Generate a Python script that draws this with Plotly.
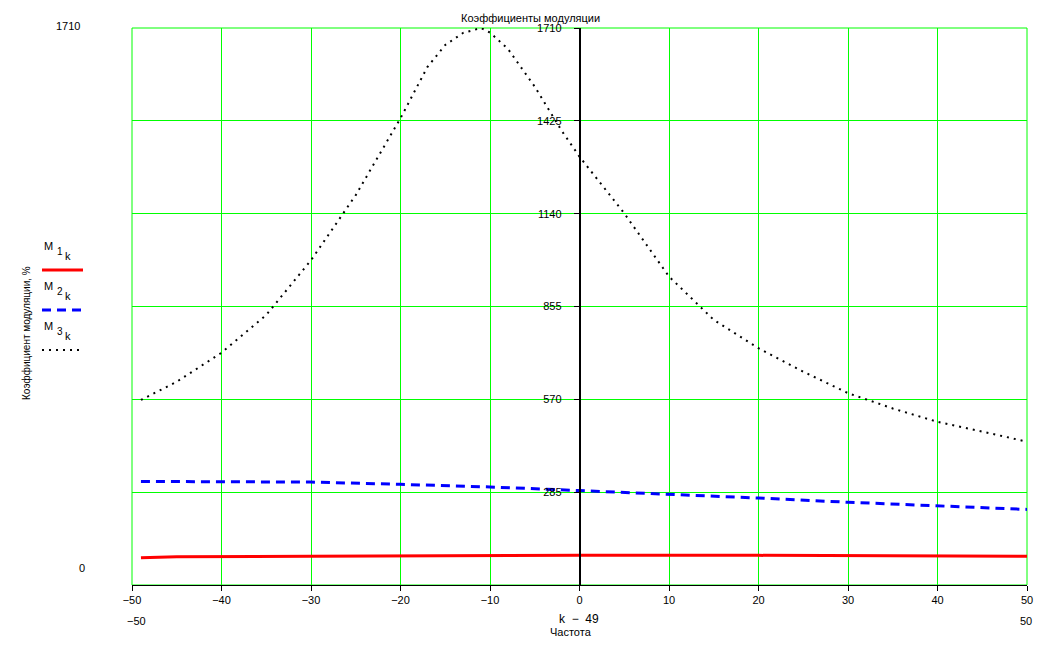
import plotly.graph_objects as go

# ---- data ----
x_m1 = [-49, -45, -30, -15, 0, 20, 36, 50]
m1 = [84, 87, 88, 90, 91, 91, 90, 88]

x_m2 = [-49, -40, -30, -20, -10, 0, 10, 20, 30, 40, 50]
m2 = [318, 318, 316, 309, 301, 290, 279, 267, 254, 244, 232]

x_m3 = [-49, -45, -40, -35, -30, -25, -20, -17, -15, -13, -11, -10, -8, -5, -2,
        0, 5, 10, 15, 20, 25, 30, 35, 40, 45, 50]
m3 = [568, 624, 713, 829, 997, 1197, 1433, 1590, 1658, 1695, 1710, 1696, 1646,
      1530, 1395, 1315, 1141, 947, 814, 727, 655, 589, 542, 501, 471, 440]

x_ticks = [-50, -40, -30, -20, -10, 0, 10, 20, 30, 40, 50]
y_ticks = [285, 570, 855, 1140, 1425, 1710]

FONT = "Liberation Sans, Arial, sans-serif"

OFF = 8  # default page body margin
W, H = 1061 - 2 * OFF, 647 - 2 * OFF
L, R, T, B = 132, 1027, 28, 585  # plot area in page pixels


def px(xp):
    return (xp - L) / (R - L)


def py(yp):
    return (B - yp) / (B - T)


fig = go.Figure()
fig.add_trace(go.Scatter(x=x_m1, y=m1, mode="lines", line=dict(color="#ff0000", width=3),
                         showlegend=False))
fig.add_trace(go.Scatter(x=x_m2, y=m2, mode="lines",
                         line=dict(color="#0000ff", width=3, dash="9px,6px"), showlegend=False))
fig.add_trace(go.Scatter(x=x_m3, y=m3, mode="lines",
                         line=dict(color="#000000", width=2, dash="2px,5px"), showlegend=False))

fig.update_layout(
    width=W, height=H,
    margin=dict(l=L - OFF, r=(OFF + W) - R, t=T - OFF, b=(OFF + H) - B),
    plot_bgcolor="white", paper_bgcolor="white",
    font=dict(family=FONT, size=11, color="black"),
    xaxis=dict(range=[-50, 50], tickvals=x_ticks,
               ticktext=[("−" + str(-v)) if v < 0 else str(v) for v in x_ticks],
               showgrid=True, gridcolor="#00ff00", gridwidth=1,
               zeroline=False, showline=True, linecolor="black", linewidth=1,
               ticks="outside", ticklen=5, tickcolor="black",
               tickfont=dict(family=FONT, size=11)),
    yaxis=dict(range=[0, 1710], tickvals=y_ticks, ticktext=[str(v) for v in y_ticks],
               showgrid=True, gridcolor="#00ff00", gridwidth=1,
               zeroline=False, showline=True, linecolor="black", linewidth=1.5,
               anchor="free", position=0.5,
               ticks="outside", ticklen=5, tickcolor="black", ticklabelstandoff=10,
               tickfont=dict(family=FONT, size=11)),
    showlegend=False,
)

ann = []


def text(xp, yp, s, size=11, xanchor="center", yanchor="middle", angle=0):
    ann.append(dict(x=px(xp), y=py(yp), xref="paper", yref="paper", text=s, showarrow=False,
                    xanchor=xanchor, yanchor=yanchor, textangle=angle,
                    font=dict(family=FONT, size=size, color="black")))


text(530, 18, "Коэффициенты модуляции", size=11)
text(68, 26, "1710", size=11)
text(82, 568, "0", size=11)
text(136, 621, "−50", size=11)
text(1026, 621, "50", size=11)
text(579, 619, "k  −  49", size=12)
text(571, 640, "Частота", size=11, yanchor="bottom")
text(27, 333, "Коэффициент модуляции, %", size=10, angle=-90)

legend_items = [("1", 270, "#ff0000", "solid", 3), ("2", 310, "#0000ff", "9px,6px", 3),
                ("3", 350, "#000000", "2px,5px", 2)]
shapes = [dict(type="rect", xref="paper", yref="paper", x0=0, x1=1, y0=0, y1=1,
               line=dict(color="#00ff00", width=1), layer="below")]
for num, ly, col, dash, w in legend_items:
    text(48, ly - 24, "M", size=11)
    text(60, ly - 19, num, size=10)
    text(68, ly - 14, "k", size=11)
    shapes.append(dict(type="line", xref="paper", yref="paper", x0=px(42), x1=px(83),
                       y0=py(ly), y1=py(ly), line=dict(color=col, width=w, dash=dash)))

fig.update_layout(annotations=ann, shapes=shapes)
fig.write_html("out.html")
